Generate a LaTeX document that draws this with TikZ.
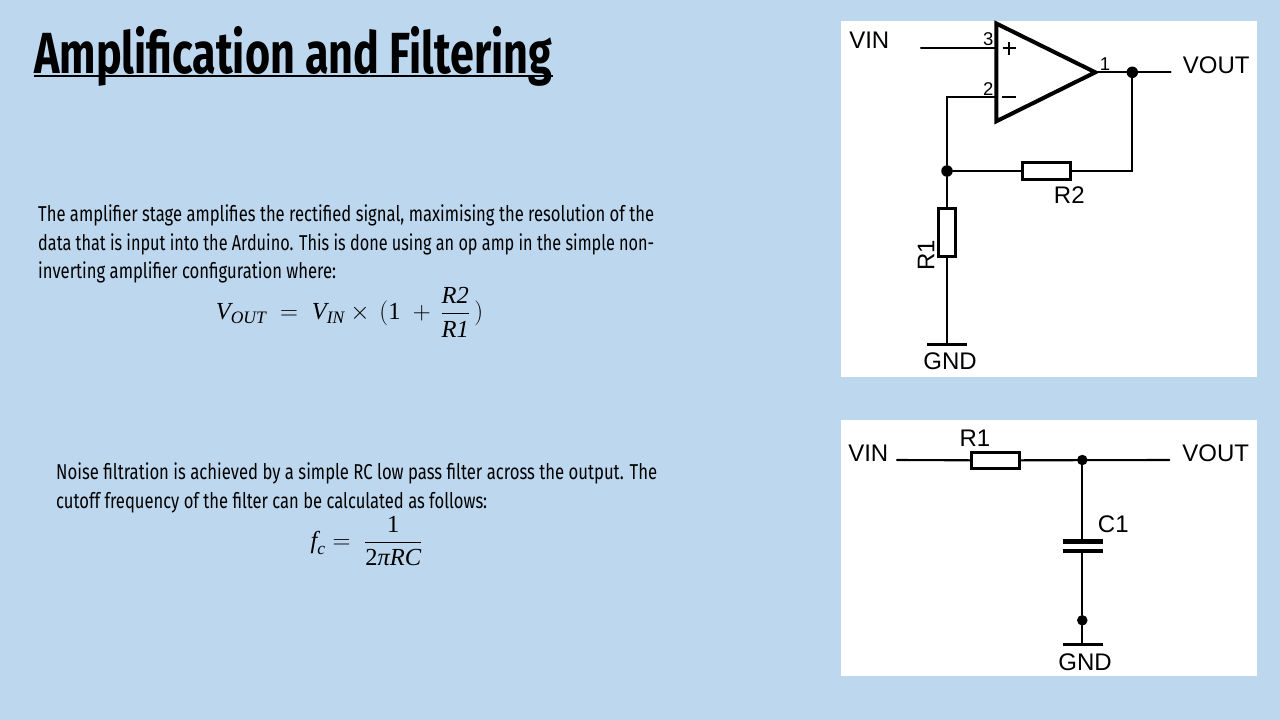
\documentclass[tikz,border=0pt]{standalone}
\usepackage{fontspec}
\usepackage{graphicx}
\usepackage{amsmath}
\newfontfamily\lab{Liberation Sans}
\newfontfamily\ttl{Fira Sans}
\newfontfamily\bodyf{Fira Sans}
\newfontfamily\eqf{Liberation Serif}
\definecolor{slide}{HTML}{BDD7EE}
\newcommand\fitw[2]{\resizebox{#1pt}{\height}{#2}}
\newcommand\ei[1]{\mbox{\eqf\itshape #1}}
\newcommand\er[1]{\mbox{\eqf #1}}
\newcommand\es[1]{\mbox{\fontsize{17.5}{18}\selectfont\eqf\itshape #1}}
\tikzset{
  x=1pt,y=-1pt,
  wire/.style={line width=2.1pt,line cap=round},
  thick wire/.style={line width=4pt,line join=miter},
  bar/.style={line width=3pt},
  plate/.style={line width=4.8pt},
  rh/.style={rectangle,draw,line width=3pt,fill=white,inner sep=0pt,minimum width=48.5pt,minimum height=16.5pt},
  rv/.style={rectangle,draw,line width=3pt,fill=white,inner sep=0pt,minimum width=16.5pt,minimum height=48.5pt},
  dot/.style={circle,fill=black,inner sep=0pt,minimum size=11.5pt},
  panel/.style={fill=white,draw=none},
  lbl/.style={anchor=base,inner sep=0pt,font=\lab\fontsize{24}{24}\selectfont},
  pin/.style={anchor=base,inner sep=0pt,font=\lab\fontsize{18.5}{18}\selectfont},
  bodyline/.style={anchor=base west,inner sep=0pt,font=\bodyf\fontsize{21.5}{24}\selectfont},
  titleline/.style={anchor=base west,inner sep=0pt,font=\ttl\bfseries\fontsize{58}{60}\selectfont},
  eq/.style={anchor=center,inner sep=0pt,font=\eqf\fontsize{24.5}{30}\selectfont},
}
\begin{document}
\begin{tikzpicture}
\useasboundingbox (0,0) rectangle (1280,720);
\fill[slide] (0,0) rectangle (1280,720);
% Title
\node[titleline] (title) at (34,73) {\fitw{518}{Amplification and Filtering}};
\coordinate (ulA) at (33.5,76);
\coordinate (ulB) at (552.5,76);
\draw[line width=1.1pt] (ulA) -- (ulB);
% Paragraph 1
\node[bodyline] (p1a) at (38,221) {\fitw{616}{The amplifier stage amplifies the rectified signal, maximising the resolution of the}};
\node[bodyline] (p1b) at (38,250) {\fitw{616}{data that is input into the Arduino. This is done using an op amp in the simple non-}};
\node[bodyline] (p1c) at (38,278) {\fitw{298}{inverting amplifier configuration where:}};
\node[eq] (eq1) at (349.5,312) {$\ei{V}_{\es{OUT}}\;=\;\ei{V}_{\es{IN}}\times\,(\er{1}\;+\,\dfrac{\ei{R2}}{\ei{R1}}\,)$};
% Paragraph 2
\node[bodyline] (p2a) at (56,479) {\fitw{601}{Noise filtration is achieved by a simple RC low pass filter across the output. The}};
\node[bodyline] (p2b) at (56,508) {\fitw{431}{cutoff frequency of the filter can be calculated as follows:}};
\node[eq] (eq2) at (366.5,541) {$\ei{f}_{\es{c}}=\;\dfrac{\er{1}}{\er{2}\ei{πRC}}$};
% Panel 1
\fill[panel] (841,21) rectangle (1257,377);
\coordinate (tA) at (996.3,23.5);
\coordinate (tB) at (996.3,121.3);
\coordinate (tC) at (1095.3,72.3);
\coordinate (vinE) at (921,48.3);
\coordinate (pinP) at (996,48.3);
\coordinate (pinN) at (996,97.3);
\coordinate (voutE) at (1170.5,72.3);
\coordinate (gnd1) at (947,344.3);
\coordinate (gnd1L) at (927.3,344.3);
\coordinate (gnd1R) at (967.3,344.3);
\node[dot] (j1) at (1132.3,72.3) {};
\node[dot] (j2) at (947,171) {};
\node[rh] (r2) at (1046.3,171) {};
\node[rv] (r1) at (947,232.3) {};
\draw[wire] (vinE) -- (pinP);
\draw[wire] (pinN) -| (j2);
\draw[wire] (tC) -- (voutE);
\draw[wire] (j1) |- (r2.east);
\draw[wire] (j2) -- (r2.west);
\draw[wire] (j2) -- (r1.north);
\draw[wire] (r1.south) -- (gnd1);
\draw[thick wire] (tA) -- (tC) -- (tB) -- cycle;
\draw[bar] (gnd1L) -- (gnd1R);
\coordinate (pl) at (1002.6,48.3);
\coordinate (pr) at (1016,48.3);
\coordinate (pt) at (1009.3,41.5);
\coordinate (pb) at (1009.3,55);
\coordinate (ml) at (1002.3,97.3);
\coordinate (mr) at (1016,97.3);
\draw[line width=2.2pt] (pl) -- (pr);
\draw[line width=2.2pt] (pt) -- (pb);
\draw[line width=2.2pt] (ml) -- (mr);
\node[lbl] (lvin) at (869.3,48.8) {VIN};
\node[lbl] (lvout) at (1216.3,73.6) {VOUT};
\node[pin] (l3) at (988.3,45.7) {3};
\node[pin] (l2) at (988.3,95) {2};
\node[pin] (l1) at (1105,70) {1};
\node[lbl] (lr2) at (1069.3,203.6) {R2};
\node[lbl,rotate=90] (lr1) at (934.3,255.3) {R1};
\node[lbl] (lgnd) at (950,369.5) {GND};
% Panel 2
\fill[panel] (841,420) rectangle (1257,676);
\coordinate (fvin) at (897,460);
\coordinate (fvout) at (1169.3,460);
\node[rh] (fr1) at (995.7,460.3) {};
\node[dot,minimum size=10.5pt] (fj1) at (1082.3,460) {};
\node[dot,minimum size=10.5pt] (fj2) at (1082.3,620.3) {};
\coordinate (c1t) at (1082.3,541.3);
\coordinate (c1b) at (1082.3,551);
\coordinate (c1tl) at (1062.7,541.3);
\coordinate (c1tr) at (1102.7,541.3);
\coordinate (c1bl) at (1062.7,551);
\coordinate (c1br) at (1102.7,551);
\coordinate (fgnd) at (1082.3,644.3);
\coordinate (fgL) at (1062.7,644.3);
\coordinate (fgR) at (1102.7,644.3);
\draw[wire] (fvin) -- (fr1.west);
\draw[wire] (fr1.east) -- (fvout);
\draw[wire] (fj1) -- (c1t);
\draw[wire] (c1b) -- (fj2);
\draw[wire] (fj2) -- (fgnd);
\draw[plate] (c1tl) -- (c1tr);
\draw[plate] (c1bl) -- (c1br);
\draw[bar] (fgL) -- (fgR);
\node[lbl] (fl1) at (868.3,461) {VIN};
\node[lbl] (fl2) at (1215.7,461) {VOUT};
\node[lbl] (fl3) at (975,446.8) {R1};
\node[lbl] (fl4) at (1113.3,532) {C1};
\node[lbl] (fl5) at (1085,670) {GND};
\end{tikzpicture}
\end{document}
